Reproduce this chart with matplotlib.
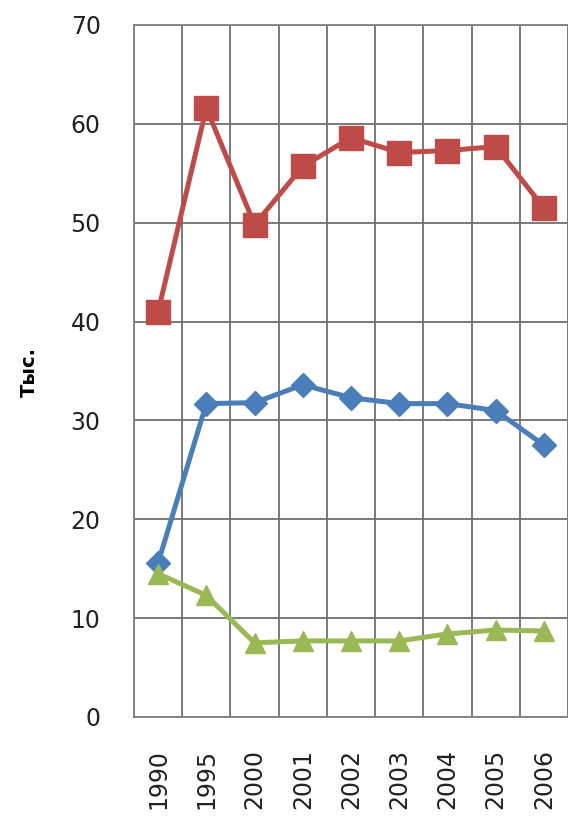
import matplotlib.pyplot as plt

years = ['1990', '1995', '2000', '2001', '2002', '2003', '2004', '2005', '2006']
red_vals = [41.0, 61.6, 49.8, 55.7, 58.6, 57.1, 57.3, 57.7, 51.5]
blue_vals = [15.6, 31.7, 31.8, 33.6, 32.3, 31.7, 31.7, 31.0, 27.5]
green_vals = [14.5, 12.3, 7.5, 7.7, 7.7, 7.7, 8.4, 8.8, 8.7]

fig = plt.figure(figsize=(5.68, 8.18), dpi=100)
ax = fig.add_axes([134/568, 101/818, 1 - 134/568, 692/818])

x = range(len(years))

ax.plot(x, red_vals, color='#BE4B48', lw=3.6, marker='s', markersize=17, zorder=3)
ax.plot(x, blue_vals, color='#4A7EBB', lw=3.6, marker='D', markersize=12, zorder=3)
ax.plot(x, green_vals, color='#98B954', lw=3.6, marker='^', markersize=15, zorder=3)

ax.set_xlim(-0.5, 8.27)
ax.set_ylim(0, 70)
ax.set_yticks(range(0, 71, 10))
ax.set_xticks(list(x))
ax.set_xticklabels(years, rotation=90)
ax.set_xticks([i + 0.5 for i in range(-1, 9)], minor=True)

ax.grid(True, axis='y', which='major', color='#707070', lw=1.3)
ax.grid(True, axis='x', which='minor', color='#707070', lw=1.3)
ax.set_axisbelow(True)
ax.tick_params(axis='both', which='both', length=0)
ax.tick_params(axis='y', labelsize=17, pad=24, colors='#222222')
ax.tick_params(axis='x', labelsize=17, pad=23, colors='#222222')
for s in ax.spines.values():
    s.set_color('#808080')
    s.set_linewidth(1.3)

fig.text(29/568, 1 - 372/818, 'Тыс.', rotation=90, fontsize=14, fontweight='bold',
         ha='center', va='center')

fig.savefig('out.png', dpi=100)
